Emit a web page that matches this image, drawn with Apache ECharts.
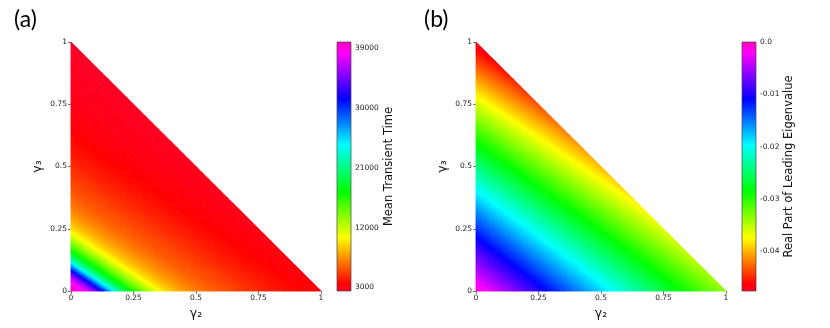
<!DOCTYPE html>
<html><head><meta charset="utf-8">
<script src="https://cdn.jsdelivr.net/npm/echarts@6/dist/echarts.min.js"></script>
<style>html,body{margin:0;padding:0;background:#fff}#c{width:830px;height:328px}</style>
</head><body><div id="c"></div>
<script>
// ---------------- data ----------------
const gammaTicks = [0, 0.25, 0.5, 0.75, 1];
const gridStep = 0.025;              // spacing of sampled gamma2/gamma3 grid points
const panelLabels = ['(a)', '(b)'];
const xName = 'γ₂', yName = 'γ₃';
const cbNameA = 'Mean Transient Time';
const cbNameB = 'Real Part of Leading Eigenvalue';

// mean transient time at grid points; rows = gamma3 index j (0..40), columns = gamma2 index i (0..40-j)
const meanTransientTime = [
[39800,39300,38300,36700,34300,31100,27400,23800,20900,18600,16700,15000,13400,12000,10700,9700,8950,8350,7850,7400,7000,6650,6350,6050,5850,5650,5450,5250,5050,4850,4650,4480,4320,4160,4000,3860,3740,3620,3520,3420,3340],
[38900,37600,35600,32800,29300,25500,22300,19700,17600,15800,14200,12700,11300,10200,9300,8650,8100,7600,7200,6800,6500,6200,5950,5750,5550,5350,5150,4950,4750,4560,4400,4240,4080,3930,3800,3680,3570,3470,3380,3300],
[36700,34300,31100,27400,23800,20900,18600,16700,15000,13400,12000,10700,9700,8950,8350,7850,7400,7000,6650,6350,6050,5850,5650,5450,5250,5050,4850,4650,4480,4320,4160,4000,3860,3740,3620,3520,3420,3340,3260],
[32800,29300,25500,22300,19700,17600,15800,14200,12700,11300,10200,9300,8650,8100,7600,7200,6800,6500,6200,5950,5750,5550,5350,5150,4950,4750,4560,4400,4240,4080,3930,3800,3680,3570,3470,3380,3300,3220],
[27400,23800,20900,18600,16700,15000,13400,12000,10700,9700,8950,8350,7850,7400,7000,6650,6350,6050,5850,5650,5450,5250,5050,4850,4650,4480,4320,4160,4000,3860,3740,3620,3520,3420,3340,3260,3190],
[22300,19700,17600,15800,14200,12700,11300,10200,9300,8650,8100,7600,7200,6800,6500,6200,5950,5750,5550,5350,5150,4950,4750,4560,4400,4240,4080,3930,3800,3680,3570,3470,3380,3300,3220,3160],
[18600,16700,15000,13400,12000,10700,9700,8950,8350,7850,7400,7000,6650,6350,6050,5850,5650,5450,5250,5050,4850,4650,4480,4320,4160,4000,3860,3740,3620,3520,3420,3340,3260,3190,3130],
[15800,14200,12700,11300,10200,9300,8650,8100,7600,7200,6800,6500,6200,5950,5750,5550,5350,5150,4950,4750,4560,4400,4240,4080,3930,3800,3680,3570,3470,3380,3300,3220,3160,3100],
[13400,12000,10700,9700,8950,8350,7850,7400,7000,6650,6350,6050,5850,5650,5450,5250,5050,4850,4650,4480,4320,4160,4000,3860,3740,3620,3520,3420,3340,3260,3190,3130,3070],
[11300,10200,9300,8650,8100,7600,7200,6800,6500,6200,5950,5750,5550,5350,5150,4950,4750,4560,4400,4240,4080,3930,3800,3680,3570,3470,3380,3300,3220,3160,3100,3040],
[9700,8950,8350,7850,7400,7000,6650,6350,6050,5850,5650,5450,5250,5050,4850,4650,4480,4320,4160,4000,3860,3740,3620,3520,3420,3340,3260,3190,3130,3070,3010],
[8650,8100,7600,7200,6800,6500,6200,5950,5750,5550,5350,5150,4950,4750,4560,4400,4240,4080,3930,3800,3680,3570,3470,3380,3300,3220,3160,3100,3040,2990],
[7850,7400,7000,6650,6350,6050,5850,5650,5450,5250,5050,4850,4650,4480,4320,4160,4000,3860,3740,3620,3520,3420,3340,3260,3190,3130,3070,3010,2970],
[7200,6800,6500,6200,5950,5750,5550,5350,5150,4950,4750,4560,4400,4240,4080,3930,3800,3680,3570,3470,3380,3300,3220,3160,3100,3040,2990,2950],
[6650,6350,6050,5850,5650,5450,5250,5050,4850,4650,4480,4320,4160,4000,3860,3740,3620,3520,3420,3340,3260,3190,3130,3070,3010,2970,2930],
[6200,5950,5750,5550,5350,5150,4950,4750,4560,4400,4240,4080,3930,3800,3680,3570,3470,3380,3300,3220,3160,3100,3040,2990,2950,2910],
[5850,5650,5450,5250,5050,4850,4650,4480,4320,4160,4000,3860,3740,3620,3520,3420,3340,3260,3190,3130,3070,3010,2970,2930,2890],
[5550,5350,5150,4950,4750,4560,4400,4240,4080,3930,3800,3680,3570,3470,3380,3300,3220,3160,3100,3040,2990,2950,2910,2870],
[5250,5050,4850,4650,4480,4320,4160,4000,3860,3740,3620,3520,3420,3340,3260,3190,3130,3070,3010,2970,2930,2890,2850],
[4950,4750,4560,4400,4240,4080,3930,3800,3680,3570,3470,3380,3300,3220,3160,3100,3040,2990,2950,2910,2870,2830],
[4650,4480,4320,4160,4000,3860,3740,3620,3520,3420,3340,3260,3190,3130,3070,3010,2970,2930,2890,2850,2810],
[4400,4240,4080,3930,3800,3680,3570,3470,3380,3300,3220,3160,3100,3040,2990,2950,2910,2870,2830,2790],
[4160,4000,3860,3740,3620,3520,3420,3340,3260,3190,3130,3070,3010,2970,2930,2890,2850,2810,2770],
[3930,3800,3680,3570,3470,3380,3300,3220,3160,3100,3040,2990,2950,2910,2870,2830,2790,2750],
[3740,3620,3520,3420,3340,3260,3190,3130,3070,3010,2970,2930,2890,2850,2810,2770,2730],
[3570,3470,3380,3300,3220,3160,3100,3040,2990,2950,2910,2870,2830,2790,2750,2710],
[3420,3340,3260,3190,3130,3070,3010,2970,2930,2890,2850,2810,2770,2730,2690],
[3300,3220,3160,3100,3040,2990,2950,2910,2870,2830,2790,2750,2710,2670],
[3190,3130,3070,3010,2970,2930,2890,2850,2810,2770,2730,2690,2650],
[3100,3040,2990,2950,2910,2870,2830,2790,2750,2710,2670,2630],
[3010,2970,2930,2890,2850,2810,2770,2730,2690,2650,2610],
[2950,2910,2870,2830,2790,2750,2710,2670,2630,2590],
[2890,2850,2810,2770,2730,2690,2650,2610,2570],
[2830,2790,2750,2710,2670,2630,2590,2560],
[2770,2730,2690,2650,2610,2570,2550],
[2710,2670,2630,2590,2560,2540],
[2650,2610,2570,2550,2530],
[2590,2560,2540,2520],
[2550,2530,2510],
[2520,2500],
[2490]
];

// real part of leading eigenvalue at grid points; same layout
const leadingEigenvalueRe = [
[-8e-4,-17e-4,-26e-4,-36e-4,-45e-4,-54e-4,-63e-4,-72e-4,-80e-4,-89e-4,-98e-4,-107e-4,-115e-4,-124e-4,-133e-4,-141e-4,-150e-4,-158e-4,-166e-4,-175e-4,-183e-4,-191e-4,-199e-4,-208e-4,-216e-4,-224e-4,-232e-4,-240e-4,-247e-4,-255e-4,-263e-4,-271e-4,-278e-4,-286e-4,-294e-4,-301e-4,-309e-4,-316e-4,-323e-4,-331e-4,-338e-4],
[-20e-4,-29e-4,-38e-4,-47e-4,-56e-4,-65e-4,-74e-4,-83e-4,-92e-4,-100e-4,-109e-4,-118e-4,-127e-4,-135e-4,-144e-4,-152e-4,-161e-4,-169e-4,-177e-4,-185e-4,-194e-4,-202e-4,-210e-4,-218e-4,-226e-4,-234e-4,-242e-4,-250e-4,-258e-4,-265e-4,-273e-4,-281e-4,-289e-4,-296e-4,-304e-4,-311e-4,-319e-4,-326e-4,-333e-4,-340e-4],
[-31e-4,-41e-4,-50e-4,-59e-4,-68e-4,-77e-4,-85e-4,-94e-4,-103e-4,-112e-4,-120e-4,-129e-4,-138e-4,-146e-4,-155e-4,-163e-4,-171e-4,-180e-4,-188e-4,-196e-4,-204e-4,-213e-4,-221e-4,-229e-4,-237e-4,-245e-4,-252e-4,-260e-4,-268e-4,-276e-4,-283e-4,-291e-4,-299e-4,-306e-4,-314e-4,-321e-4,-328e-4,-336e-4,-343e-4],
[-43e-4,-52e-4,-61e-4,-70e-4,-79e-4,-88e-4,-97e-4,-106e-4,-114e-4,-123e-4,-132e-4,-140e-4,-149e-4,-157e-4,-166e-4,-174e-4,-182e-4,-191e-4,-199e-4,-207e-4,-215e-4,-223e-4,-231e-4,-239e-4,-247e-4,-255e-4,-263e-4,-271e-4,-278e-4,-286e-4,-294e-4,-301e-4,-309e-4,-316e-4,-324e-4,-331e-4,-338e-4,-346e-4],
[-55e-4,-64e-4,-73e-4,-82e-4,-91e-4,-99e-4,-108e-4,-117e-4,-126e-4,-134e-4,-143e-4,-151e-4,-160e-4,-168e-4,-177e-4,-185e-4,-193e-4,-201e-4,-210e-4,-218e-4,-226e-4,-234e-4,-242e-4,-250e-4,-258e-4,-265e-4,-273e-4,-281e-4,-289e-4,-296e-4,-304e-4,-311e-4,-319e-4,-326e-4,-334e-4,-341e-4,-348e-4],
[-67e-4,-75e-4,-84e-4,-93e-4,-102e-4,-111e-4,-120e-4,-128e-4,-137e-4,-145e-4,-154e-4,-162e-4,-171e-4,-179e-4,-188e-4,-196e-4,-204e-4,-212e-4,-220e-4,-228e-4,-237e-4,-244e-4,-252e-4,-260e-4,-268e-4,-276e-4,-284e-4,-291e-4,-299e-4,-306e-4,-314e-4,-321e-4,-329e-4,-336e-4,-344e-4,-351e-4],
[-78e-4,-87e-4,-96e-4,-105e-4,-114e-4,-122e-4,-131e-4,-140e-4,-148e-4,-157e-4,-165e-4,-174e-4,-182e-4,-190e-4,-199e-4,-207e-4,-215e-4,-223e-4,-231e-4,-239e-4,-247e-4,-255e-4,-263e-4,-271e-4,-279e-4,-286e-4,-294e-4,-302e-4,-309e-4,-317e-4,-324e-4,-332e-4,-339e-4,-346e-4,-354e-4],
[-90e-4,-99e-4,-108e-4,-116e-4,-125e-4,-134e-4,-142e-4,-151e-4,-160e-4,-168e-4,-176e-4,-185e-4,-193e-4,-201e-4,-210e-4,-218e-4,-226e-4,-234e-4,-242e-4,-250e-4,-258e-4,-266e-4,-274e-4,-281e-4,-289e-4,-297e-4,-304e-4,-312e-4,-320e-4,-327e-4,-334e-4,-342e-4,-349e-4,-356e-4],
[-102e-4,-110e-4,-119e-4,-128e-4,-137e-4,-145e-4,-154e-4,-162e-4,-171e-4,-179e-4,-188e-4,-196e-4,-204e-4,-212e-4,-221e-4,-229e-4,-237e-4,-245e-4,-253e-4,-261e-4,-269e-4,-276e-4,-284e-4,-292e-4,-300e-4,-307e-4,-315e-4,-322e-4,-330e-4,-337e-4,-345e-4,-352e-4,-359e-4],
[-113e-4,-122e-4,-131e-4,-139e-4,-148e-4,-157e-4,-165e-4,-174e-4,-182e-4,-190e-4,-199e-4,-207e-4,-215e-4,-223e-4,-232e-4,-240e-4,-248e-4,-256e-4,-264e-4,-271e-4,-279e-4,-287e-4,-295e-4,-302e-4,-310e-4,-318e-4,-325e-4,-333e-4,-340e-4,-347e-4,-355e-4,-362e-4],
[-125e-4,-134e-4,-142e-4,-151e-4,-160e-4,-168e-4,-177e-4,-185e-4,-193e-4,-202e-4,-210e-4,-218e-4,-226e-4,-235e-4,-243e-4,-251e-4,-259e-4,-267e-4,-274e-4,-282e-4,-290e-4,-298e-4,-305e-4,-313e-4,-321e-4,-328e-4,-336e-4,-343e-4,-350e-4,-358e-4,-365e-4],
[-137e-4,-145e-4,-154e-4,-163e-4,-171e-4,-180e-4,-188e-4,-196e-4,-205e-4,-213e-4,-221e-4,-229e-4,-238e-4,-246e-4,-254e-4,-262e-4,-270e-4,-277e-4,-285e-4,-293e-4,-301e-4,-308e-4,-316e-4,-324e-4,-331e-4,-339e-4,-346e-4,-353e-4,-361e-4,-368e-4],
[-148e-4,-157e-4,-166e-4,-174e-4,-183e-4,-191e-4,-199e-4,-208e-4,-216e-4,-224e-4,-232e-4,-241e-4,-249e-4,-257e-4,-265e-4,-273e-4,-280e-4,-288e-4,-296e-4,-304e-4,-311e-4,-319e-4,-327e-4,-334e-4,-342e-4,-349e-4,-356e-4,-364e-4,-371e-4],
[-160e-4,-169e-4,-177e-4,-186e-4,-194e-4,-202e-4,-211e-4,-219e-4,-227e-4,-235e-4,-244e-4,-252e-4,-260e-4,-268e-4,-276e-4,-283e-4,-291e-4,-299e-4,-307e-4,-314e-4,-322e-4,-330e-4,-337e-4,-345e-4,-352e-4,-359e-4,-367e-4,-374e-4],
[-172e-4,-180e-4,-189e-4,-197e-4,-206e-4,-214e-4,-222e-4,-230e-4,-239e-4,-247e-4,-255e-4,-263e-4,-271e-4,-279e-4,-287e-4,-294e-4,-302e-4,-310e-4,-318e-4,-325e-4,-333e-4,-340e-4,-348e-4,-355e-4,-363e-4,-370e-4,-377e-4],
[-184e-4,-192e-4,-200e-4,-209e-4,-217e-4,-225e-4,-234e-4,-242e-4,-250e-4,-258e-4,-266e-4,-274e-4,-282e-4,-290e-4,-298e-4,-305e-4,-313e-4,-321e-4,-328e-4,-336e-4,-344e-4,-351e-4,-358e-4,-366e-4,-373e-4,-380e-4],
[-195e-4,-204e-4,-212e-4,-220e-4,-229e-4,-237e-4,-245e-4,-253e-4,-261e-4,-269e-4,-277e-4,-285e-4,-293e-4,-301e-4,-309e-4,-316e-4,-324e-4,-332e-4,-339e-4,-347e-4,-354e-4,-362e-4,-369e-4,-376e-4,-384e-4],
[-207e-4,-215e-4,-224e-4,-232e-4,-240e-4,-248e-4,-256e-4,-264e-4,-273e-4,-280e-4,-288e-4,-296e-4,-304e-4,-312e-4,-320e-4,-327e-4,-335e-4,-342e-4,-350e-4,-357e-4,-365e-4,-372e-4,-380e-4,-387e-4],
[-219e-4,-227e-4,-235e-4,-243e-4,-252e-4,-260e-4,-268e-4,-276e-4,-284e-4,-292e-4,-300e-4,-307e-4,-315e-4,-323e-4,-331e-4,-338e-4,-346e-4,-353e-4,-361e-4,-368e-4,-376e-4,-383e-4,-390e-4],
[-230e-4,-239e-4,-247e-4,-255e-4,-263e-4,-271e-4,-279e-4,-287e-4,-295e-4,-303e-4,-311e-4,-319e-4,-326e-4,-334e-4,-342e-4,-349e-4,-357e-4,-364e-4,-372e-4,-379e-4,-386e-4,-394e-4],
[-242e-4,-250e-4,-258e-4,-267e-4,-275e-4,-283e-4,-291e-4,-299e-4,-306e-4,-314e-4,-322e-4,-330e-4,-337e-4,-345e-4,-353e-4,-360e-4,-368e-4,-375e-4,-382e-4,-390e-4,-397e-4],
[-254e-4,-262e-4,-270e-4,-278e-4,-286e-4,-294e-4,-302e-4,-310e-4,-318e-4,-325e-4,-333e-4,-341e-4,-349e-4,-356e-4,-364e-4,-371e-4,-379e-4,-386e-4,-393e-4,-400e-4],
[-265e-4,-274e-4,-282e-4,-290e-4,-298e-4,-306e-4,-313e-4,-321e-4,-329e-4,-337e-4,-344e-4,-352e-4,-360e-4,-367e-4,-375e-4,-382e-4,-389e-4,-397e-4,-404e-4],
[-277e-4,-285e-4,-293e-4,-301e-4,-309e-4,-317e-4,-325e-4,-333e-4,-340e-4,-348e-4,-356e-4,-363e-4,-371e-4,-378e-4,-386e-4,-393e-4,-400e-4,-408e-4],
[-289e-4,-297e-4,-305e-4,-313e-4,-321e-4,-328e-4,-336e-4,-344e-4,-352e-4,-359e-4,-367e-4,-374e-4,-382e-4,-389e-4,-397e-4,-404e-4,-411e-4],
[-301e-4,-308e-4,-316e-4,-324e-4,-332e-4,-340e-4,-348e-4,-355e-4,-363e-4,-370e-4,-378e-4,-385e-4,-393e-4,-400e-4,-408e-4,-415e-4],
[-312e-4,-320e-4,-328e-4,-336e-4,-344e-4,-351e-4,-359e-4,-367e-4,-374e-4,-382e-4,-389e-4,-397e-4,-404e-4,-411e-4,-419e-4],
[-324e-4,-332e-4,-340e-4,-347e-4,-355e-4,-363e-4,-370e-4,-378e-4,-386e-4,-393e-4,-400e-4,-408e-4,-415e-4,-422e-4],
[-336e-4,-343e-4,-351e-4,-359e-4,-367e-4,-374e-4,-382e-4,-389e-4,-397e-4,-404e-4,-412e-4,-419e-4,-426e-4],
[-347e-4,-355e-4,-363e-4,-370e-4,-378e-4,-386e-4,-393e-4,-401e-4,-408e-4,-415e-4,-423e-4,-430e-4],
[-359e-4,-367e-4,-374e-4,-382e-4,-390e-4,-397e-4,-405e-4,-412e-4,-419e-4,-427e-4,-434e-4],
[-371e-4,-378e-4,-386e-4,-394e-4,-401e-4,-409e-4,-416e-4,-423e-4,-431e-4,-438e-4],
[-382e-4,-390e-4,-398e-4,-405e-4,-413e-4,-420e-4,-427e-4,-435e-4,-442e-4],
[-394e-4,-402e-4,-409e-4,-417e-4,-424e-4,-431e-4,-439e-4,-446e-4],
[-406e-4,-413e-4,-421e-4,-428e-4,-436e-4,-443e-4,-450e-4],
[-418e-4,-425e-4,-432e-4,-440e-4,-447e-4,-454e-4],
[-429e-4,-437e-4,-444e-4,-451e-4,-459e-4],
[-441e-4,-448e-4,-456e-4,-463e-4],
[-453e-4,-460e-4,-467e-4],
[-464e-4,-472e-4],
[-476e-4]
];

// colorbar ranges and ticks
const cbRangeA = [2450, 39950];
const cbTicksA = [3000, 12000, 21000, 30000, 39000];
const cbTickLabelsA = ['3000', '12000', '21000', '30000', '39000'];
const cbRangeB = [-0.0476, 0];
const cbTicksB = [-0.04, -0.03, -0.02, -0.01, 0];
const cbTickLabelsB = ['-0.04', '-0.03', '-0.02', '-0.01', '0.0'];

// ---------------- colormap (matplotlib gist_rainbow) ----------------
const rainbowStops = [
  [0.000, [255, 0, 41]], [0.030, [255, 0, 0]], [0.215, [255, 255, 0]],
  [0.400, [0, 255, 0]], [0.586, [0, 255, 255]], [0.770, [0, 0, 255]],
  [0.954, [255, 0, 255]], [1.000, [255, 0, 191]]
];
function cmap(t) {
  t = Math.max(0, Math.min(1, t));
  for (let k = 1; k < rainbowStops.length; k++) {
    const [t1, c1] = rainbowStops[k];
    if (t <= t1) {
      const [t0, c0] = rainbowStops[k - 1];
      const f = (t - t0) / (t1 - t0);
      const c = c0.map((v, n) => Math.round(v + f * (c1[n] - v)));
      return 'rgb(' + c.join(',') + ')';
    }
  }
  return 'rgb(255,0,191)';
}
const gradientStops = rainbowStops.map(([o, c]) => ({ offset: o, color: 'rgb(' + c.join(',') + ')' }));

// ---------------- helpers ----------------
function rowsToData(rows) {
  const out = [];
  rows.forEach((row, j) => row.forEach((v, i) => out.push([+(i * gridStep).toFixed(4), +(j * gridStep).toFixed(4), v])));
  return out;
}
// one shaded triangle: colour follows the colormap of the values at its three grid points
function shadedTriangle(A, B, C, a, b, c, range) {
  const norm = v => (v - range[0]) / (range[1] - range[0]);
  const e1x = B[0] - A[0], e1y = B[1] - A[1], e2x = C[0] - A[0], e2y = C[1] - A[1];
  const db = b - a, dc = c - a, det = e1x * e2y - e1y * e2x;
  const lo = Math.min(a, b, c), hi = Math.max(a, b, c);
  let fill;
  if (hi - lo <= Math.abs(range[1] - range[0]) * 1e-9 || Math.abs(det) < 1e-9) {
    fill = cmap(norm((a + b + c) / 3));
  } else {
    const gx = (db * e2y - dc * e1y) / det, gy = (e1x * dc - e2x * db) / det, g2 = gx * gx + gy * gy;
    const s = (lo - a) / g2, e = (hi - a) / g2;
    const stops = [];
    const K = 4;
    for (let k = 0; k <= K; k++) stops.push({ offset: k / K, color: cmap(norm(lo + (hi - lo) * k / K)) });
    fill = new echarts.graphic.LinearGradient(A[0] + gx * s, A[1] + gy * s, A[0] + gx * e, A[1] + gy * e, stops, true);
  }
  return { type: 'polygon', shape: { points: [A, B, C] }, style: { fill: fill, stroke: fill, lineWidth: 0.9, lineJoin: 'round' } };
}
function meshRenderer(rows, range) {
  const n = rows.length - 1;
  return function (params, api) {
    const i = Math.round(api.value(0) / gridStep), j = Math.round(api.value(1) / gridStep);
    if (i + j >= n) return null;
    const P = (ii, jj) => api.coord([ii * gridStep, jj * gridStep]);
    const V = (ii, jj) => rows[jj][ii];
    const children = [shadedTriangle(P(i, j), P(i + 1, j), P(i, j + 1), V(i, j), V(i + 1, j), V(i, j + 1), range)];
    if (i + j + 2 <= n) {
      children.push(shadedTriangle(P(i + 1, j), P(i + 1, j + 1), P(i, j + 1), V(i + 1, j), V(i + 1, j + 1), V(i, j + 1), range));
    }
    return { type: 'group', children: children };
  };
}
function renderColorbar(params, api) {
  const a = api.coord([api.value(0), api.value(1)]);
  const b = api.coord([api.value(2), api.value(3)]);
  return {
    type: 'rect',
    shape: { x: a[0], y: b[1], width: b[0] - a[0], height: a[1] - b[1] },
    style: { fill: new echarts.graphic.LinearGradient(0, 1, 0, 0, gradientStops), stroke: '#444', lineWidth: 0.7 }
  };
}

const tickFont = { fontSize: 7.5, color: '#222', fontFamily: 'DejaVu Sans' };
const nameFont = { fontSize: 12.5, color: '#111', fontFamily: 'DejaVu Sans' };
const cbNameFont = { fontSize: 11.5, color: '#111', fontFamily: 'DejaVu Sans' };

function plotXAxis(g) {
  return {
    gridIndex: g, type: 'value', min: 0, max: 1, interval: 0.25,
    splitLine: { show: false }, axisLine: { show: false },
    axisTick: { show: true, length: 3, lineStyle: { color: '#555', width: 0.8 } },
    axisLabel: Object.assign({ margin: 3, formatter: v => String(v) }, tickFont),
    name: xName, nameLocation: 'middle', nameGap: 14, nameTextStyle: nameFont
  };
}
function plotYAxis(g) {
  return {
    gridIndex: g, type: 'value', min: 0, max: 1, interval: 0.25,
    splitLine: { show: false }, axisLine: { show: false },
    axisTick: { show: true, length: 3, lineStyle: { color: '#555', width: 0.8 } },
    axisLabel: Object.assign({ margin: 4, formatter: v => String(v) }, tickFont),
    name: yName, nameLocation: 'middle', nameRotate: 90, nameGap: 27, nameTextStyle: nameFont
  };
}
function cbXAxis(g) {
  return { gridIndex: g, type: 'value', min: 0, max: 1, show: false };
}
function cbYAxis(g, range, ticks, labels, name, gap) {
  return {
    gridIndex: g, type: 'value', position: 'right', min: range[0], max: range[1],
    splitLine: { show: false }, axisLine: { show: false },
    axisTick: { show: true, length: 3, customValues: ticks, lineStyle: { color: '#555', width: 0.8 } },
    axisLabel: Object.assign({
      margin: 4, customValues: ticks,
      formatter: v => {
        let best = 0;
        ticks.forEach((t, k) => { if (Math.abs(t - v) < Math.abs(ticks[best] - v)) best = k; });
        return labels[best];
      }
    }, tickFont),
    name: name, nameLocation: 'middle', nameRotate: 90, nameGap: gap, nameTextStyle: cbNameFont
  };
}

const chart = echarts.init(document.getElementById('c'), null, { renderer: 'canvas' });
chart.setOption({
  backgroundColor: '#fff',
  animation: false,
  title: [
    { text: panelLabels[0], left: 14, top: 8, padding: 0, textStyle: { fontSize: 23, fontWeight: 'normal', color: '#000', fontFamily: 'Lato' } },
    { text: panelLabels[1], left: 424, top: 8, padding: 0, textStyle: { fontSize: 23, fontWeight: 'normal', color: '#000', fontFamily: 'Lato' } }
  ],
  grid: [
    { left: 71, top: 42, width: 250, height: 249 },
    { left: 476, top: 42, width: 250, height: 249 },
    { left: 337, top: 42, width: 14, height: 249 },
    { left: 742, top: 42, width: 14, height: 249 }
  ],
  xAxis: [plotXAxis(0), plotXAxis(1), cbXAxis(2), cbXAxis(3)],
  yAxis: [plotYAxis(0), plotYAxis(1),
    cbYAxis(2, cbRangeA, cbTicksA, cbTickLabelsA, cbNameA, 31),
    cbYAxis(3, cbRangeB, cbTicksB, cbTickLabelsB, cbNameB, 27)],
  series: [
    { type: 'custom', xAxisIndex: 0, yAxisIndex: 0, renderItem: meshRenderer(meanTransientTime, cbRangeA), encode: { x: 0, y: 1 }, data: rowsToData(meanTransientTime) },
    { type: 'custom', xAxisIndex: 1, yAxisIndex: 1, renderItem: meshRenderer(leadingEigenvalueRe, cbRangeB), encode: { x: 0, y: 1 }, data: rowsToData(leadingEigenvalueRe) },
    { type: 'custom', xAxisIndex: 2, yAxisIndex: 2, renderItem: renderColorbar, encode: { x: [0, 2], y: [1, 3] }, data: [[0, cbRangeA[0], 1, cbRangeA[1]]] },
    { type: 'custom', xAxisIndex: 3, yAxisIndex: 3, renderItem: renderColorbar, encode: { x: [0, 2], y: [1, 3] }, data: [[0, cbRangeB[0], 1, cbRangeB[1]]] }
  ]
});
</script>
</body></html>
